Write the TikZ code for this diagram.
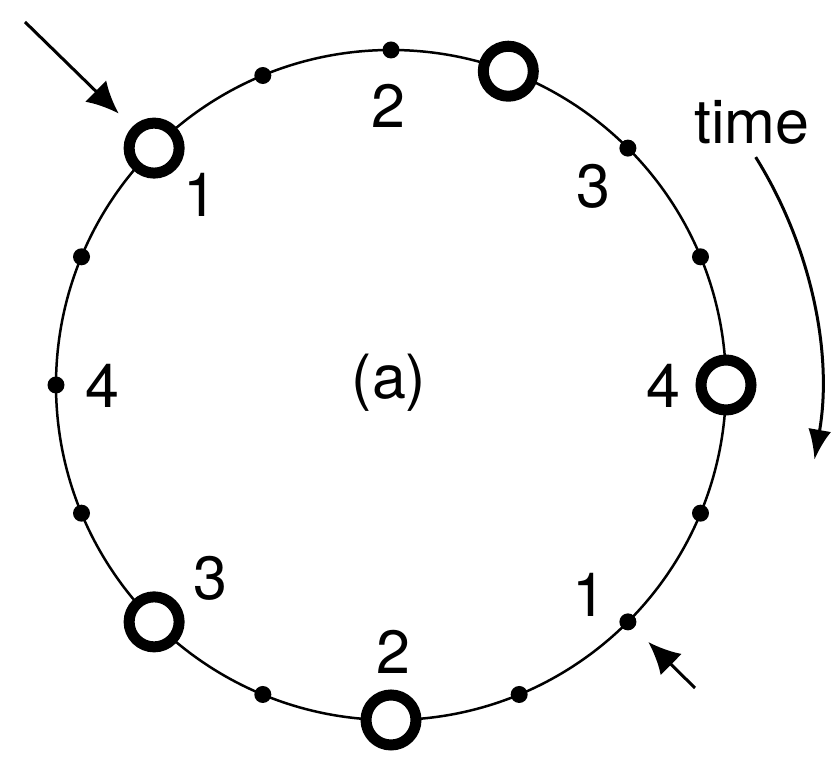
\documentclass[tikz,border=0pt]{standalone}
\usepackage{fontspec}
\setmainfont{TeX Gyre Heros}
\usetikzlibrary{arrows.meta, positioning}

\begin{document}
\begin{tikzpicture}[x=1pt, y=1pt,
    dot/.style={circle, fill=black, inner sep=0pt, minimum size=17pt},
    ring/.style={circle, draw, line width=11pt, fill=white, inner sep=0pt, minimum size=50pt},
    lbl/.style={inner sep=0pt, font=\fontsize{61}{66}\selectfont},
    arrow/.style={-{Latex[length=32pt, width=30pt]}, line width=3pt}
]
\useasboundingbox (0,0) rectangle (831,757);
\coordinate (c) at (391,372);
\draw[line width=2.5pt] (c) circle[radius=335];

% slots on the ring
\foreach \ang/\nm in {90/top, 45/ne, 22.5/ene, -22.5/ese, -45/se, -67.5/sse,
                      -112.5/ssw, -157.5/wsw, 180/west, 157.5/wnw, 112.5/nnw}
  \node[dot] (\nm) at ([shift={(\ang:335)}]c) {};
\foreach \ang/\nm in {69.5/nne, 0/east, -90/bottom, -135/sw, 135/nw}
  \node[ring] (\nm) at ([shift={(\ang:335)}]c) {};

% labels
\node[lbl] (lb1) at (200,562) {1};
\node[lbl] (lb2) at (388,651) {2};
\node[lbl] (lb3) at (593,571) {3};
\node[lbl] (lb4) at (663,371) {4};
\node[lbl] (la1) at (589,162) {1};
\node[lbl] (la2) at (393,105) {2};
\node[lbl] (la3) at (210,179) {3};
\node[lbl] (la4) at (102,371) {4};
\node[lbl] (cap) at (389,374) {(a)};
\node[lbl] (time) at (752,635) {time};

% arrows
\coordinate (inA) at (25,735);
\coordinate (inB) at (695,69);
\draw[arrow, shorten >=19pt] (inA) -- (nw);
\draw[arrow, shorten >=20pt] (inB) -- (se);
\coordinate (t0) at ([shift={(32:430)}]c);
\draw[arrow, -{Latex[length=30pt, width=23pt]}] (t0) arc[start angle=32, end angle=-10, radius=430];
\end{tikzpicture}
\end{document}
